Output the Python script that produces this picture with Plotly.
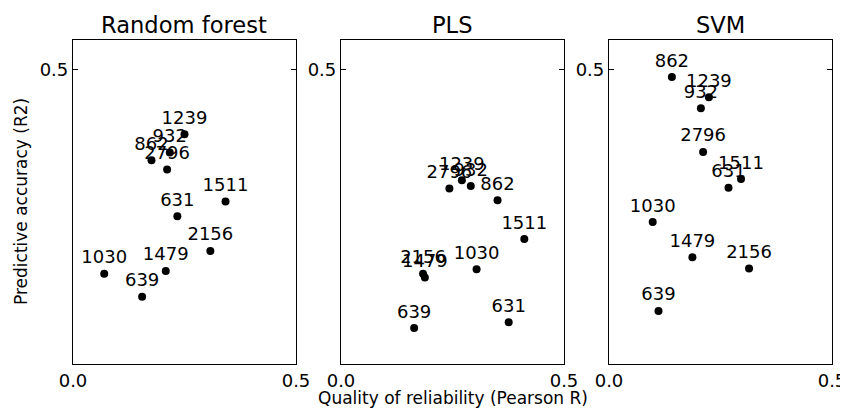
import plotly.graph_objects as go

# ---- data ----
panel_titles = ["Random forest", "PLS", "SVM"]
point_labels = ["1239", "932", "862", "2796", "1511", "631", "2156", "1479", "1030", "639"]

rf_x = [0.250, 0.217, 0.176, 0.211, 0.342, 0.234, 0.308, 0.208, 0.070, 0.155]
rf_y = [0.390, 0.359, 0.346, 0.330, 0.276, 0.251, 0.192, 0.158, 0.153, 0.114]

pls_x = [0.271, 0.291, 0.351, 0.243, 0.411, 0.376, 0.184, 0.188, 0.304, 0.164]
pls_y = [0.312, 0.302, 0.278, 0.298, 0.212, 0.071, 0.153, 0.147, 0.161, 0.061]

svm_x = [0.224, 0.206, 0.141, 0.211, 0.296, 0.268, 0.314, 0.187, 0.098, 0.111]
svm_y = [0.453, 0.434, 0.487, 0.360, 0.314, 0.299, 0.162, 0.181, 0.241, 0.090]

x_ticks = [0.0, 0.5]
x_ticktext = ["0.0", "0.5"]
y_ticks = [0.5]
y_ticktext = ["0.5"]
x_range = [0.0, 0.5]
y_range = [0.0, 0.55]

FONT = "DejaVu Sans"
series = [(rf_x, rf_y), (pls_x, pls_y), (svm_x, svm_y)]
domains = [[0.0, 0.2938], [0.3531, 0.6469], [0.7062, 1.0]]

fig = go.Figure()
for i, (xs, ys) in enumerate(series):
    suffix = "" if i == 0 else str(i + 1)
    fig.add_trace(go.Scatter(
        x=xs, y=ys, mode="markers+text", text=point_labels,
        textposition="top center",
        textfont=dict(family=FONT, size=18, color="black"),
        marker=dict(color="black", size=8),
        xaxis="x" + suffix, yaxis="y" + suffix, showlegend=False,
        cliponaxis=False,
    ))

layout = dict(
    width=840, height=401,
    margin=dict(l=65, r=16, t=32, b=45, autoexpand=False),
    paper_bgcolor="white", plot_bgcolor="white",
    font=dict(family=FONT, size=18, color="black"),
    annotations=[],
)
for i in range(3):
    suffix = "" if i == 0 else str(i + 1)
    layout["xaxis" + suffix] = dict(
        domain=domains[i], range=x_range, tickvals=x_ticks, ticktext=x_ticktext,
        showgrid=False, zeroline=False, showline=True, linecolor="black", linewidth=1.2,
        mirror="ticks", ticks="inside", ticklen=5, tickcolor="black", automargin=False,
        anchor="y" + suffix, tickfont=dict(family=FONT, size=18),
    )
    layout["yaxis" + suffix] = dict(
        domain=[0, 1], range=y_range, tickvals=y_ticks, ticktext=y_ticktext,
        showgrid=False, zeroline=False, showline=True, linecolor="black", linewidth=1.2,
        mirror="ticks", ticks="inside", ticklen=5, tickcolor="black", automargin=False,
        anchor="x" + suffix, tickfont=dict(family=FONT, size=18),
    )
    layout["annotations"].append(dict(
        text=panel_titles[i], xref="paper", yref="paper",
        x=(domains[i][0] + domains[i][1]) / 2, y=1, xanchor="center", yanchor="bottom",
        yshift=0, showarrow=False, font=dict(family=FONT, size=22.6, color="black"),
    ))

layout["annotations"].append(dict(
    text="Quality of reliability (Pearson R)", xref="paper", yref="paper",
    x=0.5, y=0, xanchor="center", yanchor="top", yshift=-22,
    showarrow=False, font=dict(family=FONT, size=17, color="black"),
))
layout["annotations"].append(dict(
    text="Predictive accuracy (R2)", xref="paper", yref="paper",
    x=0, y=0.5, xanchor="right", yanchor="middle", xshift=-40, textangle=-90,
    showarrow=False, font=dict(family=FONT, size=17, color="black"),
))

fig.update_layout(**layout)
fig.write_html("out.html")
